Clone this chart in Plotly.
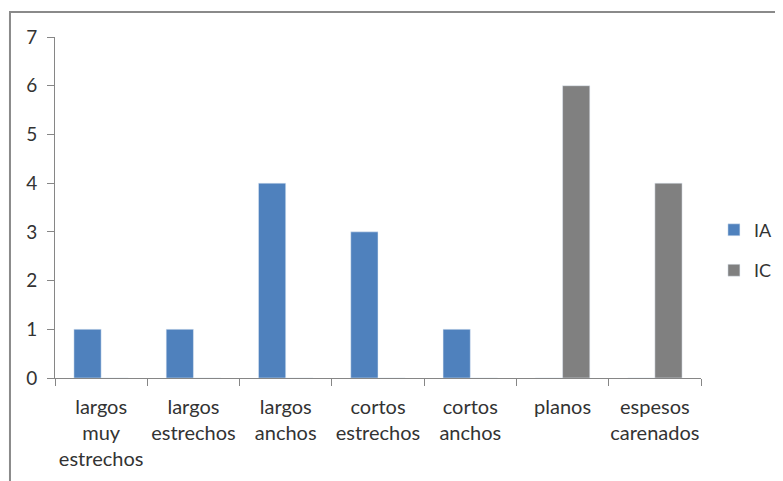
import plotly.graph_objects as go

categories = ["largos<br>muy<br>estrechos", "largos<br>estrechos", "largos<br>anchos",
              "cortos<br>estrechos", "cortos<br>anchos", "planos", "espesos<br>carenados"]
ia_values = [1, 1, 4, 3, 1, 0, 0]
ic_values = [0, 0, 0, 0, 0, 6, 4]

font = dict(family="Lato, Open Sans, sans-serif", size=19, color="#333333")

fig = go.Figure()
fig.add_trace(go.Bar(x=categories, y=ia_values, name="IA", marker_color="#4F81BD",
                     legendgroup="ia"))
fig.add_trace(go.Bar(x=categories, y=ic_values, name="IC", marker_color="#808080",
                     legendgroup="ic"))

# page body has an 8px margin, so the plot area is shifted left/up to compensate
fig.update_layout(
    width=783, height=481,
    margin=dict(l=47, r=90, t=29, b=111, autoexpand=False),
    paper_bgcolor="white", plot_bgcolor="white",
    barmode="group", bargap=0.41, bargroupgap=0,
    font=font,
    showlegend=True,
    legend=dict(x=1.02, y=0.375, xanchor="left", yanchor="middle",
                font=dict(size=18, color="#333333"), itemwidth=30,
                tracegroupgap=14),
    xaxis=dict(showline=True, linecolor="#868686", linewidth=1,
               ticks="outside", ticklen=7, tickcolor="#868686",
               tickson="boundaries", showgrid=False, automargin=False,
               tickangle=0, ticklabelstandoff=11, tickfont=dict(size=20)),
    yaxis=dict(range=[0, 7], dtick=1, showline=True, linecolor="#868686", linewidth=1,
               ticks="outside", ticklen=7, tickcolor="#868686", showgrid=False,
               zeroline=False, ticklabelstandoff=6, automargin=False),
    shapes=[dict(type="rect", xref="paper", yref="paper",
                 x0=-0.0697, x1=1.14, y0=-0.33, y1=1.0733,
                 line=dict(color="#8a8a8a", width=2), fillcolor="rgba(0,0,0,0)")],
)

fig.write_html("out.html")
